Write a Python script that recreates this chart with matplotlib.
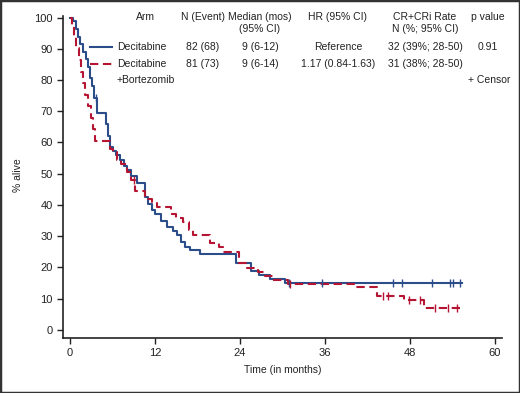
import numpy as np
import matplotlib
matplotlib.use("Agg")
import matplotlib.pyplot as plt
from matplotlib.patches import Rectangle

plt.rcParams["font.family"] = ["Liberation Sans", "DejaVu Sans"]

# Kaplan-Meier steps (months, % alive)
blue_t = [0, 0.4, 0.8, 1.1, 1.4, 1.8, 2.2, 2.5, 2.8, 3.1, 3.4, 3.8, 5.1, 5.3, 5.6, 6.0,
          6.5, 7.1, 7.6, 8.0, 8.6, 9.5, 10.6, 11.0, 11.5, 12.0, 12.8, 13.7, 14.5, 15.1,
          15.6, 16.2, 17.0, 18.4, 23.5, 25.6, 26.7, 28.2, 30.4, 55.4]
blue_s = [100, 98.8, 96.3, 93.9, 91.5, 89.0, 86.6, 84.1, 80.5, 78.0, 74.4, 69.5, 65.9,
          62.2, 58.5, 57.3, 56.1, 54.3, 52.4, 51.2, 49.4, 47.0, 42.7, 40.2, 38.4, 37.2,
          34.8, 33.0, 31.7, 30.5, 28.0, 26.4, 25.6, 24.4, 21.5, 18.8, 17.6, 16.3, 15.0, 15.0]
red_t = [0, 0.3, 0.6, 0.9, 1.2, 1.5, 1.8, 2.1, 2.5, 2.9, 3.2, 3.5, 5.6, 6.0, 6.6, 7.2,
         8.0, 8.6, 9.2, 10.6, 11.5, 12.3, 14.2, 15.0, 16.0, 16.8, 17.4, 19.8, 21.0, 21.6,
         23.9, 25.0, 26.5, 27.5, 28.7, 30.8, 40.3, 43.3, 47.1, 50.0, 55.4]
red_s = [100, 97.5, 93.8, 90.1, 86.4, 82.7, 79.0, 75.3, 71.6, 67.9, 64.2, 60.5, 58.0,
         56.8, 54.3, 53.1, 50.6, 48.1, 44.4, 42.0, 40.7, 39.5, 37.0, 35.8, 34.6, 32.1,
         30.3, 27.8, 26.5, 25.0, 21.4, 19.8, 18.5, 17.3, 16.0, 14.8, 13.6, 10.9, 9.6,
         7.0, 7.0]
blue_cens = [3.6, 30.9, 35.6, 45.6, 46.9, 51.1, 53.7, 54.1, 55.0]
red_cens = [9.0, 31.0, 44.2, 44.9, 47.9, 49.4, 51.6, 53.4, 54.6]

x_ticks = [0, 12, 24, 36, 48, 60]
y_ticks = list(range(0, 101, 10))

header = ["Arm", "N (Event)", "Median (mos)\n(95% CI)", "HR (95% CI)",
          "CR+CRi Rate\nN (%; 95% CI)", "p value"]
row_blue = ["82 (68)", "9 (6-12)", "Reference", "32 (39%; 28-50)", "0.91"]
row_red = ["81 (73)", "9 (6-14)", "1.17 (0.84-1.63)", "31 (38%; 28-50)", ""]

BLUE = "#2b4d8a"
RED = "#b51432"
W, H = 520, 393


def surv_at(t_arr, s_arr, t):
    i = np.searchsorted(t_arr, t, side="right") - 1
    return s_arr[i]


fig = plt.figure(figsize=(W / 100, H / 100), dpi=100)
ax = fig.add_axes([63 / W, 1 - 338 / H, (502 - 63) / W, (338 - 16) / H])

ax.step(blue_t, blue_s, where="post", color=BLUE, lw=1.5)
ax.step(red_t, red_s, where="post", color=RED, lw=1.5, dashes=(4, 2.2))
ax.plot(blue_cens, [surv_at(blue_t, blue_s, t) for t in blue_cens], ls="none",
        marker="|", ms=6, mew=1.0, color=BLUE)
ax.plot(red_cens, [surv_at(red_t, red_s, t) for t in red_cens], ls="none",
        marker="|", ms=6, mew=1.0, color=RED)

ax.set_xlim(-1, 61)
ax.set_ylim(-2.6, 100.5)
ax.set_xticks(x_ticks)
ax.set_yticks(y_ticks)
ax.tick_params(labelsize=8, length=4, width=1, colors="#222222")
for s in ("top", "right"):
    ax.spines[s].set_visible(False)
for s in ("left", "bottom"):
    ax.spines[s].set_linewidth(1.2)
    ax.spines[s].set_color("#222222")

ax.set_xlabel("Time (in months)", fontsize=7.5, labelpad=5, color="#222222")
fig.text(18 / W, 1 - 175 / H, "% alive", fontsize=7.5, color="#222222",
         rotation=90, ha="center", va="center")


def ftext(x, y, s, **kw):
    fig.text(x / W, 1 - y / H, s, fontsize=7.5, color="#222222", va="center", **kw)


# table header
col_x = [145, 203, 260, 338, 425, 488]
for x, s in zip(col_x, header):
    ftext(x, 23 if "\n" in s else 17, s, ha="center", linespacing=1.3)

# rows
ftext(117, 47, "Decitabine", ha="left")
ftext(117, 64, "Decitabine", ha="left")
ftext(117, 80, "+Bortezomib", ha="left")
for x, a, b in zip(col_x[1:], row_blue, row_red):
    ftext(x, 47, a, ha="center")
    ftext(x, 64, b, ha="center")
fig.add_artist(plt.Line2D([90 / W, 112 / W], [1 - 47 / H] * 2, color=BLUE, lw=1.5))
fig.add_artist(plt.Line2D([90 / W, 113 / W], [1 - 64 / H] * 2, color=RED, lw=1.5,
                          dashes=(4, 2.2)))
ftext(510, 80, "+ Censor", ha="right")

fig.add_artist(Rectangle((0, 0), 1, 1, transform=fig.transFigure, fill=False,
                         edgecolor="#333333", lw=2.5))

fig.savefig("out.png", dpi=100)
